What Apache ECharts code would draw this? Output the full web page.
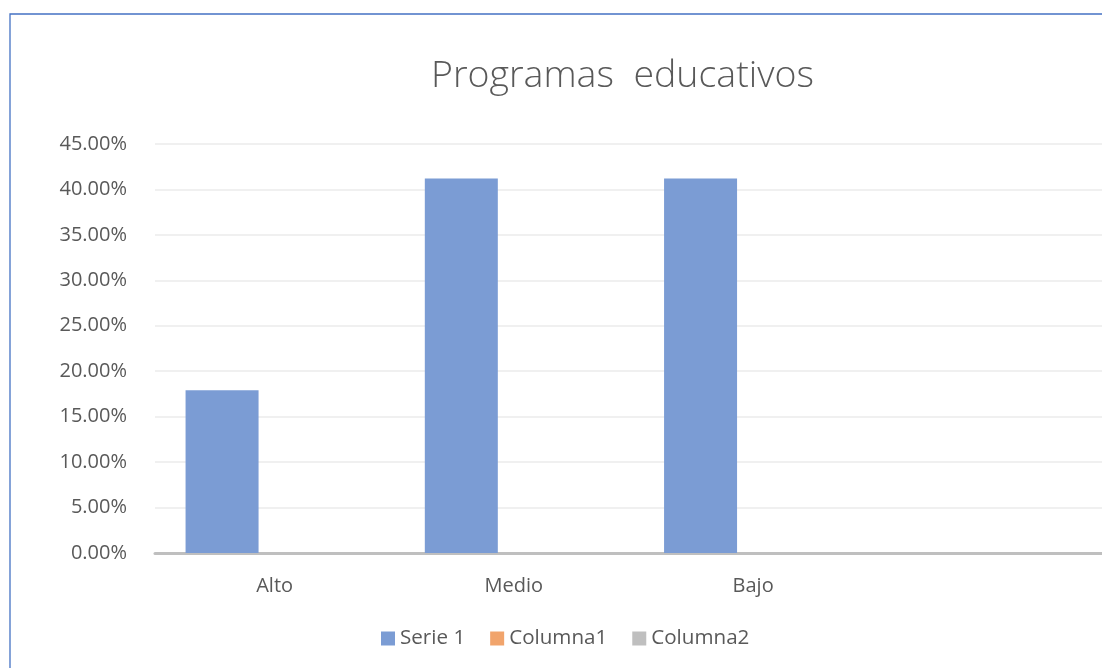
<!DOCTYPE html>
<html>
<head>
<meta charset="utf-8">
<script src="https://cdn.jsdelivr.net/npm/echarts@6/dist/echarts.min.js"></script>
<style>
html,body{margin:0;padding:0;background:#fff;overflow:hidden;}
#chart{position:absolute;left:0;top:0;width:1130px;height:668px;}
</style>
</head>
<body>
<div id="chart"></div>
<script>
const titleText = 'Programas  educativos';
const categories = ['Alto', 'Medio', 'Bajo', ''];
const serie1 = [0.179, 0.412, 0.412, null];
const columna1 = [null, null, null, null];
const columna2 = [null, null, null, null];
const seriesNames = ['Serie 1', 'Columna1', 'Columna2'];
const colors = ['#7B9CD4', '#F1A46C', '#BFBFBF'];

const FONT = '"Open Sans", sans-serif';
const chart = echarts.init(document.getElementById('chart'), null, {renderer: 'canvas'});
const data = [serie1, columna1, columna2];
chart.setOption({
  animation: false,
  color: colors,
  title: {
    text: titleText,
    left: 431,
    top: 57,
    padding: 0,
    textStyle: {fontFamily: FONT, fontWeight: 300, fontSize: 37.5, color: '#595959'}
  },
  graphic: [{
    type: 'rect',
    shape: {x: 10, y: 14, width: 1300, height: 900},
    style: {fill: 'none', stroke: '#4472C4', lineWidth: 1.3},
    silent: true
  }],
  legend: {
    left: 381,
    top: 628,
    padding: 0,
    itemWidth: 14,
    itemHeight: 14,
    itemGap: 25,
    icon: 'rect',
    textStyle: {fontFamily: FONT, fontSize: 20.6, color: '#595959'},
    data: seriesNames
  },
  grid: {left: 155, right: 18, top: 144, bottom: 115, containLabel: false},
  xAxis: {
    type: 'category',
    data: categories,
    axisLine: {lineStyle: {color: '#BFBFBF', width: 3}},
    axisTick: {show: false},
    axisLabel: {fontFamily: FONT, fontSize: 20, color: '#595959', margin: 23}
  },
  yAxis: {
    type: 'value',
    min: 0, max: 0.45, interval: 0.05,
    axisLine: {show: false},
    axisTick: {show: false},
    splitLine: {lineStyle: {color: '#EBEBEB', width: 1.5}},
    axisLabel: {
      fontFamily: FONT, fontSize: 20, color: '#595959', margin: 28,
      formatter: v => (v * 100).toFixed(2) + '%'
    }
  },
  series: seriesNames.map((n, i) => ({
    name: n,
    type: 'bar',
    data: data[i],
    barWidth: 73,
    barGap: '-28%',
    itemStyle: {color: colors[i]}
  }))
});
</script>
</body>
</html>
